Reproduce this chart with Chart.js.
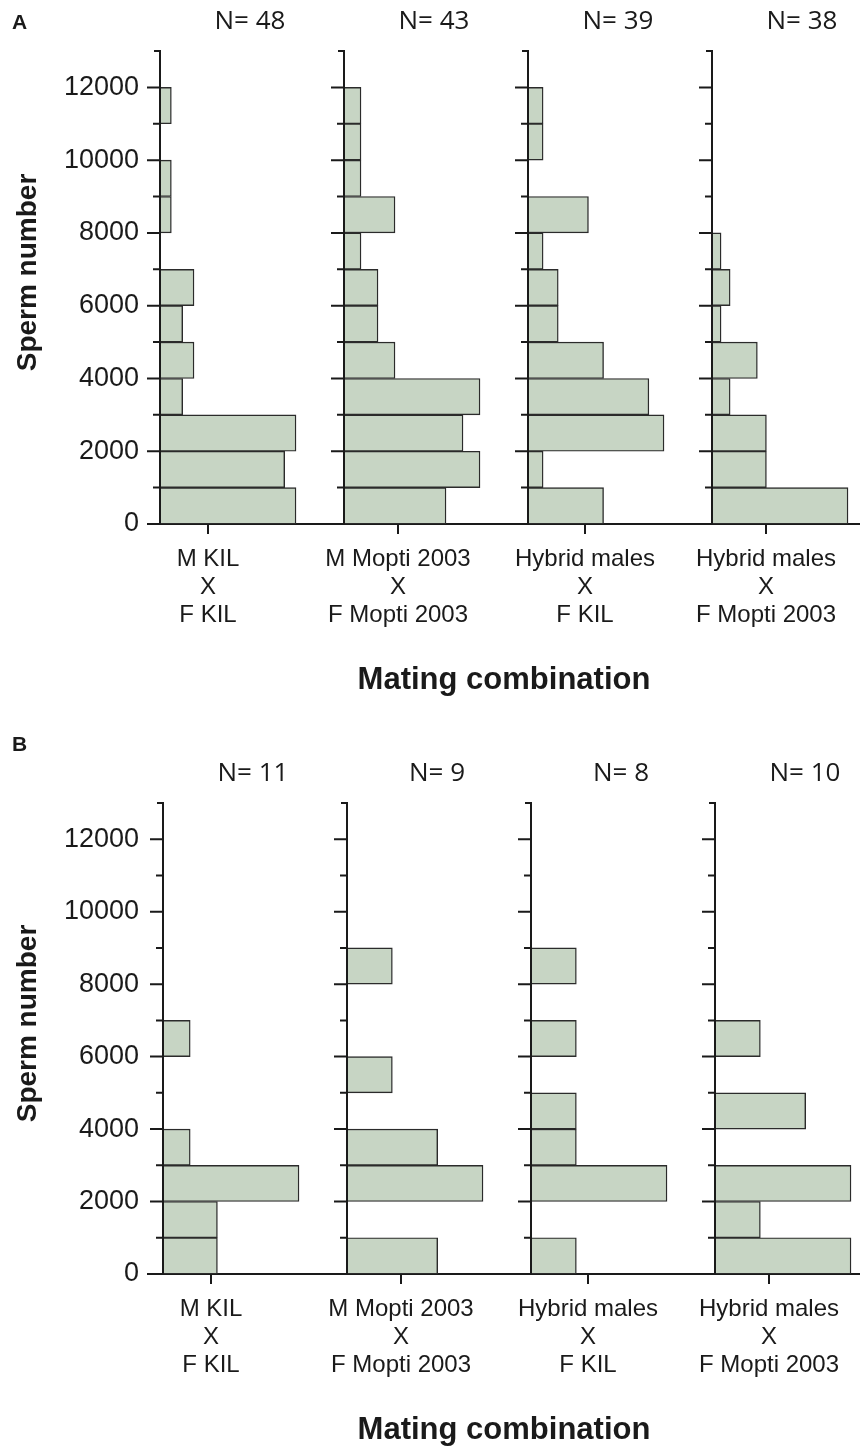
<!DOCTYPE html>
<html>
<head>
<meta charset="utf-8">
<script src="https://cdn.jsdelivr.net/npm/chart.js@4.4.0/dist/chart.umd.min.js"></script>
<style>
  body { margin: 0; background: #fff; }
  .panel { position: absolute; left: 0; width: 860px; height: 724px; }
</style>
</head>
<body>
<div class="panel" style="top:0"><canvas id="chartA" width="860" height="724"></canvas></div>
<div class="panel" style="top:722px"><canvas id="chartB" width="860" height="724"></canvas></div>
<script>
// bin centres, 1000-wide sperm number bins
var bins = [500, 1500, 2500, 3500, 4500, 5500, 6500, 7500, 8500, 9500, 10500, 11500, 12500];
var yTicks = [0, 2000, 4000, 6000, 8000, 10000, 12000];
var categories = [
  ["M KIL", "X", "F KIL"],
  ["M Mopti 2003", "X", "F Mopti 2003"],
  ["Hybrid males", "X", "F KIL"],
  ["Hybrid males", "X", "F Mopti 2003"]
];

// panel A: counts per bin
var aKil = [12, 11, 12, 2, 3, 2, 3, 0, 1, 1, 0, 1, 0];
var aMopti = [6, 8, 7, 8, 3, 2, 2, 1, 3, 1, 1, 1, 0];
var aHybKil = [5, 1, 9, 8, 5, 2, 2, 1, 4, 0, 1, 1, 0];
var aHybMopti = [15, 6, 6, 2, 5, 1, 2, 1, 0, 0, 0, 0, 0];
var nA = [48, 43, 39, 38];

// panel B: counts per bin
var bKil = [2, 2, 5, 1, 0, 0, 1, 0, 0, 0, 0, 0, 0];
var bMopti = [2, 0, 3, 2, 0, 1, 0, 0, 1, 0, 0, 0, 0];
var bHybKil = [1, 0, 3, 1, 1, 0, 1, 0, 1, 0, 0, 0, 0];
var bHybMopti = [3, 1, 3, 0, 2, 0, 1, 0, 0, 0, 0, 0, 0];
var nB = [11, 9, 8, 10];

// layout (px)
var panelW = [184, 184, 184, 160];
var barMaxPx = 136; // longest bar of each histogram
var tickOff = [48, 54, 57, 54]; // category tick, right of histogram baseline
var ink = "#1a1a1a";
var sans = "'Liberation Sans', Arial, sans-serif";

var panelDecor = {
  id: "panelDecor",
  afterDatasetsDraw: function (chart) {
    var ctx = chart.ctx, y = chart.scales.y;
    var y0 = y.getPixelForValue(0), yTop = y.getPixelForValue(13000);
    ctx.save();
    ctx.strokeStyle = ink;
    ctx.lineWidth = 2;
    for (var i = 0; i < 4; i++) {
      var bx = chart.scales["x" + i].getPixelForValue(0);
      ctx.beginPath();
      ctx.moveTo(bx, y0);
      ctx.lineTo(bx, yTop);
      ctx.lineTo(bx - 6, yTop);
      for (var v = 1000; v <= 12000; v += 1000) {
        var py = y.getPixelForValue(v);
        ctx.moveTo(bx, py);
        ctx.lineTo(bx - (v % 2000 === 0 ? 13 : 7), py);
      }
      ctx.stroke();
    }
    ctx.restore();
  },
  afterDraw: function (chart, args, opts) {
    var ctx = chart.ctx, ca = chart.chartArea;
    ctx.save();
    ctx.fillStyle = ink;
    ctx.textBaseline = "middle";

    ctx.textAlign = "left";
    ctx.font = "bold 21px " + sans;
    ctx.fillText(opts.letter, 12, 23);

    ctx.textAlign = "center";
    ctx.font = "26px 'Open Sans', sans-serif";
    for (var i = 0; i < 4; i++) {
      var bx = chart.scales["x" + i].getPixelForValue(0);
      ctx.fillText("N= " + opts.ns[i], bx + 90, ca.top - 29);
    }

    ctx.font = "bold 31px " + sans;
    ctx.fillText("Mating combination", (ca.left + ca.right) / 2, ca.bottom + 156);

    ctx.translate(28, (ca.top + ca.bottom) / 2 - 15);
    ctx.rotate(-Math.PI / 2);
    ctx.font = "bold 28px " + sans;
    ctx.fillText("Sperm number", 0, 0);
    ctx.restore();
  }
};

function makeChart(id, counts, ns, letter, padTop, xAxisH, baseOff) {
  var scales = {
    y: {
      type: "linear",
      position: "left",
      offset: false,
      min: 0,
      max: 13000,
      afterBuildTicks: function (s) {
        s.ticks = yTicks.map(function (v) { return { value: v }; });
      },
      afterFit: function (s) {
        s.width = 148;
        s.paddingTop = 0;
        s.paddingBottom = 0;
      },
      grid: { display: false, drawTicks: false, offset: false },
      border: { display: false },
      ticks: {
        padding: 9,
        color: ink,
        font: { family: sans, size: 27 },
        callback: function (v) { return String(v); }
      }
    }
  };

  var datasets = counts.map(function (c, i) {
    var k = barMaxPx / Math.max.apply(null, c);
    scales["x" + i] = {
      type: "linear",
      position: "bottom",
      stack: "panels",
      stackWeight: panelW[i],
      min: -baseOff / k,
      max: (panelW[i] - baseOff) / k,
      afterBuildTicks: function (s) {
        s.ticks = [{ value: tickOff[i] / k }];
      },
      afterFit: function (s) {
        s.height = xAxisH;
        s.paddingLeft = 0;
        s.paddingRight = 0;
      },
      grid: { drawOnChartArea: false, tickLength: 10, lineWidth: 2, color: ink },
      border: { display: true, width: 2, color: ink },
      ticks: {
        autoSkip: false,
        maxRotation: 0,
        padding: 12,
        color: ink,
        font: { family: sans, size: 24, lineHeight: 1.15 },
        callback: function () { return categories[i]; }
      }
    };
    return {
      data: bins.map(function (b, j) { return { x: c[j], y: b }; }),
      xAxisID: "x" + i,
      yAxisID: "y",
      backgroundColor: "#c7d5c4",
      borderColor: "#2b2b2b",
      borderWidth: function (ctx) { return ctx.raw && ctx.raw.x > 0 ? 1.4 : 0; },
      grouped: false,
      barPercentage: 1,
      categoryPercentage: 1
    };
  });

  new Chart(document.getElementById(id), {
    type: "bar",
    data: { datasets: datasets },
    options: {
      indexAxis: "y",
      responsive: false,
      animation: false,
      layout: { autoPadding: false, padding: { top: padTop, left: 0, right: 0, bottom: 0 } },
      plugins: {
        legend: { display: false },
        tooltip: { enabled: false },
        panelDecor: { letter: letter, ns: ns }
      },
      scales: scales
    },
    plugins: [panelDecor]
  });
}

makeChart("chartA", [aKil, aMopti, aHybKil, aHybMopti], nA, "A", 51, 200, 12);
makeChart("chartB", [bKil, bMopti, bHybKil, bHybMopti], nB, "B", 81, 172, 15);
</script>
</body>
</html>
